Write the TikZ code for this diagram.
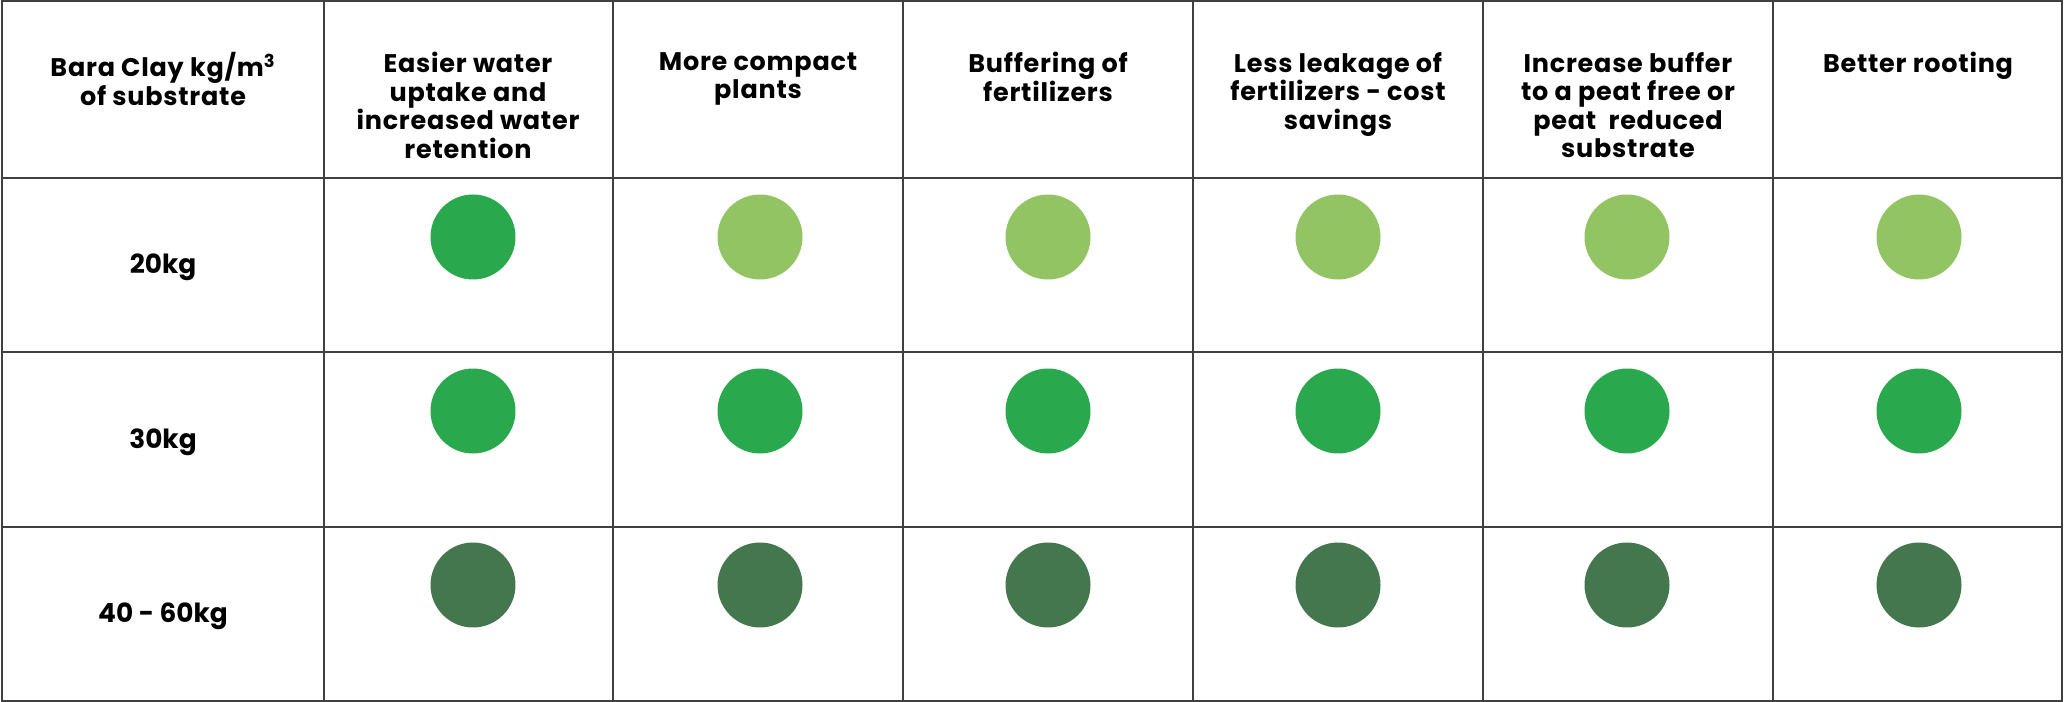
\documentclass[tikz,border=0pt]{standalone}
\usepackage{fontspec}
\setmainfont{Poppins}

\definecolor{lightdot}{HTML}{93C464}
\definecolor{middot}{HTML}{29A84E}
\definecolor{darkdot}{HTML}{45774F}

\tikzset{
  gridline/.style={draw=black!75, line width=0.9pt},
  head/.style={font=\bfseries\fontsize{14.5}{16.2}\selectfont\addfontfeatures{LetterSpace=3}, align=center, anchor=north, inner sep=0pt},
  rowlabel/.style={font=\bfseries\fontsize{15}{18}\selectfont, anchor=base, inner sep=0pt},
  dot/.style={circle, minimum size=1.7cm, inner sep=0pt},
}

\begin{document}
\begin{tikzpicture}[x=0.02cm,y=-0.02cm]
  \useasboundingbox (0,0) rectangle (2064,702);

  % table rules
  \draw[gridline] (2,1) rectangle (2062,701);
  \foreach \y in {178,352,527}
    \draw[gridline] (2,\y) -- (2062,\y);
  \foreach \x in {324,613,903,1193,1483,1773}
    \draw[gridline] (\x,1) -- (\x,701);

  % header
  \node[head] (h1) at (163,52) {Bara Clay kg/m\textsuperscript{3}\\of substrate};
  \node[head] (h2) at (468,52) {Easier water\\uptake and\\increased water\\retention};
  \node[head] (h3) at (758,52) {More compact\\plants};
  \node[head] (h4) at (1048,52) {Buffering of\\fertilizers};
  \node[head] (h5) at (1338,52) {Less leakage of\\fertilizers - cost\\savings};
  \node[head] (h6) at (1628,52) {Increase buffer\\to a peat free or\\peat\ \ reduced\\substrate};
  \node[head] (h7) at (1918,52) {Better rooting};

  % row labels
  \node[rowlabel] (r1) at (163,274) {20kg};
  \node[rowlabel] (r2) at (163,448) {30kg};
  \node[rowlabel] (r3) at (163,622) {40 - 60kg};

  % dots
  \foreach \x/\c [count=\i] in {473/middot,760/lightdot,1048/lightdot,1338/lightdot,1627/lightdot,1919/lightdot}
    \node[dot, fill=\c] (d1-\i) at (\x,237) {};
  \foreach \x [count=\i] in {473,760,1048,1338,1627,1919}
    \node[dot, fill=middot] (d2-\i) at (\x,411) {};
  \foreach \x [count=\i] in {473,760,1048,1338,1627,1919}
    \node[dot, fill=darkdot] (d3-\i) at (\x,585) {};
\end{tikzpicture}
\end{document}
